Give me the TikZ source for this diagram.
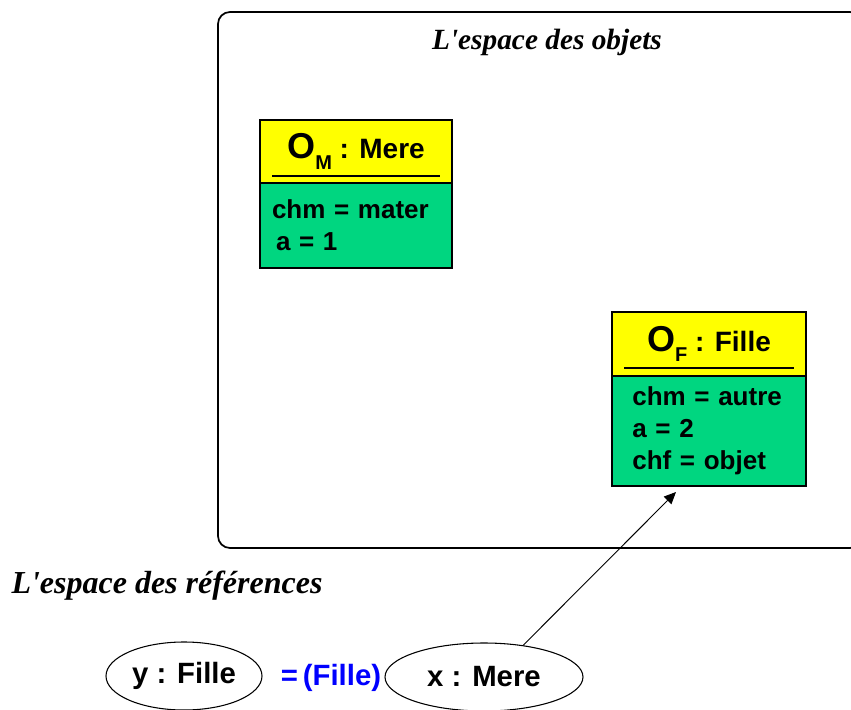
\documentclass[tikz,border=0pt]{standalone}
\usepackage{fontspec}
\setmainfont{Liberation Sans}
\newfontfamily\ttlfont{Liberation Serif}
\usetikzlibrary{positioning,shapes.geometric,arrows.meta,calc}
\definecolor{objyellow}{RGB}{255,255,0}
\definecolor{objgreen}{RGB}{0,214,128}
\definecolor{castblue}{RGB}{0,0,255}

\begin{document}
\begin{tikzpicture}[
    x=0.75pt,y=-0.75pt,
    frame/.style={draw=black,line width=1.3pt,rounded corners=9pt},
    hdr/.style={draw=black,fill=objyellow,line width=0.9pt,outer sep=0pt,inner sep=0pt,font=\bfseries},
    body/.style={draw=black,fill=objgreen,line width=0.9pt,outer sep=0pt,inner sep=0pt,align=left,
                 font=\bfseries\fontsize{19.5}{24}\selectfont},
    uline/.style={line width=1pt},
    ref/.style={ellipse,draw=black,line width=0.8pt,inner sep=0pt,minimum height=51pt,
                font=\bfseries\fontsize{22}{24}\selectfont},
    ttl/.style={font=\ttlfont\bfseries\itshape\fontsize{22}{24}\selectfont},
    link/.style={line width=0.7pt,-{Triangle[length=9pt,width=8pt]}}
]
\useasboundingbox (0,0) rectangle (851,710);

% object space
\draw[frame] (218,12) rectangle (862,548);
\node[ttl] (tObj) at (547,42) {L'espace des objets};

% object O_M : Mere
\node[hdr,minimum width=144pt,minimum height=47.25pt] (hM) at (356,151.5)
  {{\fontsize{27}{27}\selectfont O}\raisebox{-8pt}{\fontsize{15}{15}\selectfont M}\fontsize{21}{22}\selectfont\ : Mere};
\node[body,minimum width=144pt,minimum height=63.75pt,text width=126pt,below=0pt of hM] (bM)
  {chm = mater\\\hspace{3pt}a = 1};
\draw[uline] ($(hM.south west)+(12,-7)$) -- ($(hM.south east)+(-12,-7)$);

% object O_F : Fille
\node[hdr,minimum width=145.5pt,minimum height=48pt] (hF) at (709,344)
  {{\fontsize{27}{27}\selectfont O}\raisebox{-8pt}{\fontsize{15}{15}\selectfont F}\fontsize{21}{22}\selectfont\ : Fille};
\node[body,minimum width=145.5pt,minimum height=82.5pt,text width=127pt,below=0pt of hF] (bF)
  {\hspace{6pt}chm = autre\\\hspace{6pt}a = 2\\\hspace{6pt}chf = objet};
\draw[uline] ($(hF.south west)+(12,-8)$) -- ($(hF.south east)+(-12,-8)$);

% reference space
\node[ttl,font=\ttlfont\bfseries\itshape\fontsize{24}{26}\selectfont] (tRef) at (167,586) {L'espace des références};
\node[ref,minimum width=117pt] (y) at (184,676) {y : Fille};
\node[ref,minimum width=148.5pt] (x) at (484,677) {x : Mere};
\node[font=\bfseries\fontsize{22}{24}\selectfont,text=castblue,inner sep=0pt] (cast) at (331,678) {=\,(Fille)};

% reference x points to O_F
\coordinate (tipF) at ($(bF.south west)+(64,6)$);
\draw[link] (x.39) -- (tipF);

\end{tikzpicture}
\end{document}
